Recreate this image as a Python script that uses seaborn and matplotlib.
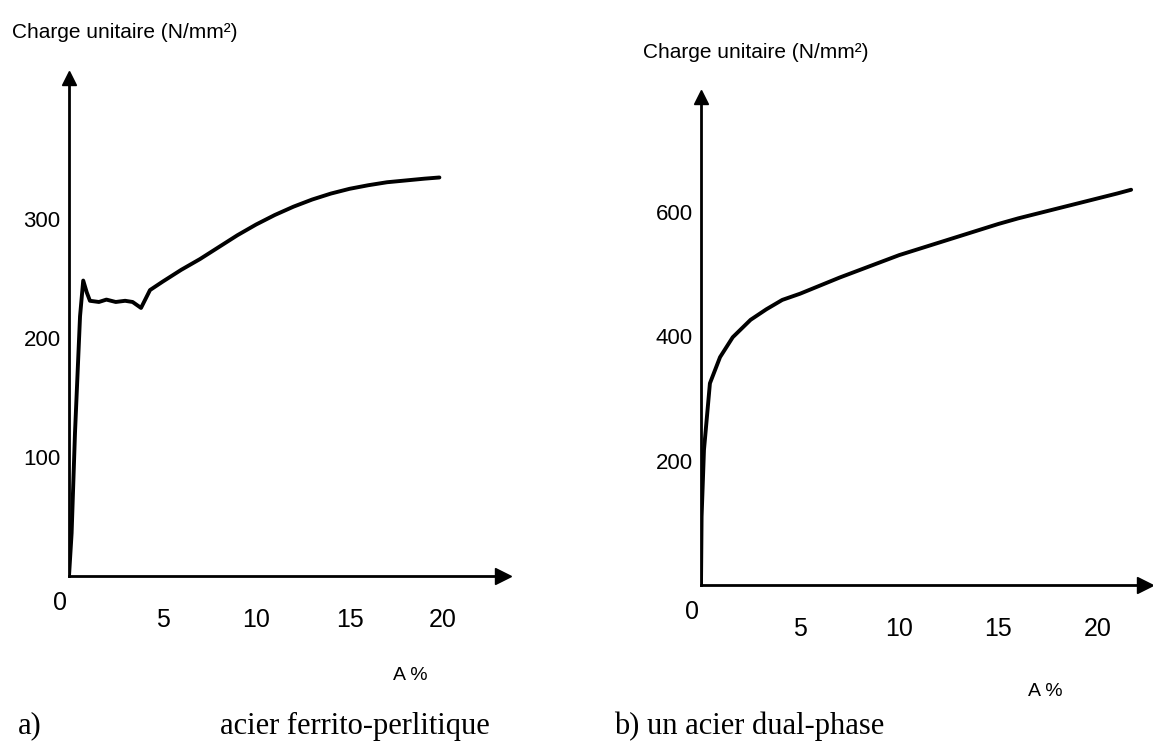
import matplotlib
matplotlib.use("Agg")
import matplotlib.pyplot as plt
import seaborn as sns

# a) acier ferrito-perlitique : allongement A (%) / charge (N/mm2)
a_strain = [0, 0.14, 0.32, 0.59, 0.76, 0.95, 1.12, 1.6, 2.0, 2.5, 3.0, 3.4, 3.85,
            4.33, 5.0, 6.0, 7.0, 8.0, 9.0, 10.0, 11.0, 12.0, 13.0, 14.0, 15.0,
            16.0, 17.0, 18.0, 19.0, 19.8]
a_stress = [0, 36, 120, 218, 248, 238, 231, 230, 232, 230, 231, 230, 225,
            240, 247, 257, 266, 276, 286, 295, 303, 310, 316, 321, 325,
            328, 330.5, 332, 333.5, 334.5]

# b) acier dual-phase
b_strain = [0, 0.03, 0.15, 0.45, 0.96, 1.6, 2.5, 3.3, 4.1, 5.0, 6.0, 7.0, 8.0,
            9.0, 10.0, 11.0, 12.0, 13.0, 14.0, 15.0, 16.0, 17.0, 18.0, 19.0,
            20.0, 21.0, 21.7]
b_stress = [0, 110, 217, 324, 366, 398, 426, 443, 458, 468, 481, 494, 506,
            518, 530, 540, 550, 560, 570, 580, 589, 597, 605, 613,
            621, 629, 635]

a_yticks = [100, 200, 300]
b_yticks = [200, 400, 600]
xticks = [5, 10, 15, 20]

ylabel = "Charge unitaire (N/mm²)"

sns.set_style("white")
plt.rcParams["font.family"] = ["Liberation Sans Narrow", "Liberation Sans", "DejaVu Sans"]
plt.rcParams["text.color"] = "black"

W, H = 1153, 752
fig = plt.figure(figsize=(W / 100, H / 100), dpi=100, facecolor="white")


def box(x0, y0, x1, y1):
    # pixel box (top-left origin) -> figure fraction
    return [x0 / W, 1 - y1 / H, (x1 - x0) / W, (y1 - y0) / H]


def panel(ax, x, y, xmax, ymax, yticks):
    sns.lineplot(x=x, y=y, ax=ax, color="black", lw=2.8, sort=False)
    ax.set_xlim(0, xmax)
    ax.set_ylim(0, ymax)
    for s in ("top", "right"):
        ax.spines[s].set_visible(False)
    for s in ("left", "bottom"):
        ax.spines[s].set_linewidth(2.0)
        ax.spines[s].set_color("black")
    ax.plot(1, 0, ">", color="black", ms=11, transform=ax.get_yaxis_transform(), clip_on=False)
    ax.plot(0, 1, "^", color="black", ms=10, transform=ax.get_xaxis_transform(), clip_on=False)
    ax.set_xticks(xticks)
    ax.set_xticklabels([str(t) for t in xticks], fontsize=18)
    ax.set_yticks(yticks)
    ax.set_yticklabels([str(t) for t in yticks], fontsize=16)
    ax.tick_params(axis="x", direction="out", length=7, width=1.5, pad=16,
                   colors="black", labelcolor="black")
    ax.tick_params(axis="y", direction="out", length=5, width=1.5, pad=1,
                   colors="black", labelcolor="black")
    ax.set_xlabel("")
    ax.set_ylabel("")
    ax.text(-0.02, -0.055, "0", transform=ax.transAxes, ha="center", va="center",
            fontsize=18, color="black")


ax1 = fig.add_axes(box(69, 78, 503, 576))
panel(ax1, a_strain, a_stress, 23.2, 418, a_yticks)

ax2 = fig.add_axes(box(701, 97, 1145, 585))
panel(ax2, b_strain, b_stress, 22.4, 784, b_yticks)

fig.text(12 / W, 1 - 33 / H, ylabel, ha="left", va="center", fontsize=15)
fig.text(643 / W, 1 - 52 / H, ylabel, ha="left", va="center", fontsize=15)
fig.text(410 / W, 1 - 675 / H, "A %", ha="center", va="center", fontsize=14)
fig.text(1045 / W, 1 - 692 / H, "A %", ha="center", va="center", fontsize=14)

serif = ["Liberation Serif", "DejaVu Serif"]
fig.text(18 / W, 1 - 726 / H, "a)", ha="left", va="center", fontsize=22, family=serif)
fig.text(220 / W, 1 - 726 / H, "acier ferrito-perlitique", ha="left", va="center",
         fontsize=22, family=serif)
fig.text(614 / W, 1 - 726 / H, "b) un acier dual-phase", ha="left", va="center",
         fontsize=22, family=serif)

fig.savefig("out.png", dpi=100, facecolor="white")
